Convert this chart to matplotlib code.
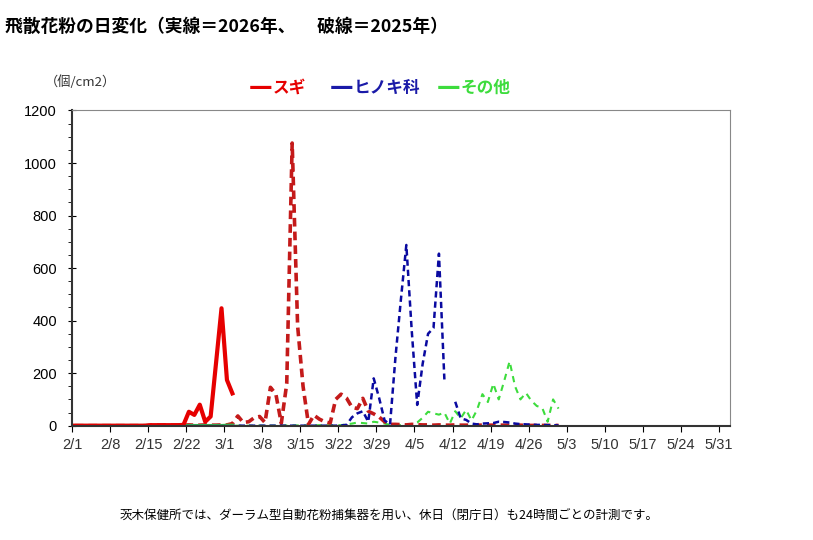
import numpy as np
import matplotlib
matplotlib.use("Agg")
import matplotlib.pyplot as plt
from matplotlib.ticker import MultipleLocator

plt.rcParams['font.family'] = ['Liberation Sans', 'Noto Sans CJK JP', 'DejaVu Sans']

# x axis: days from 2/1 (2/1 .. 6/1)
tick_labels = ["2/1", "2/8", "2/15", "2/22", "3/1", "3/8", "3/15", "3/22", "3/29",
               "4/5", "4/12", "4/19", "4/26", "5/3", "5/10", "5/17", "5/24", "5/31"]
tick_days = [0, 7, 14, 21, 28, 35, 42, 49, 56, 63, 70, 77, 84, 91, 98, 105, 112, 119]
n_days = 121

# 2026 (solid) daily counts from 2/1
sugi_2026 = [0, 0, 0, 0, 0, 0, 0, 0, 0, 0, 0, 0, 0, 0, 2, 2, 2, 2, 2, 2,
             3, 53, 41, 80, 15, 35, 240, 447, 174, 123]
hinoki_2026 = [0, 0, 0, 0, 0, 0, 0, 0, 0, 0, 0, 0, 0, 0, 0, 0, 0, 0, 0, 0,
               0, 0, 0, 0, 0, 0, 0, 0, 0, 0]
other_2026 = [0, 0, 0, 0, 0, 0, 0, 0, 0, 0, 0, 0, 0, 0, 0, 0, 0, 0, 0, 0,
              0, 0, 0, 0, 0, 0, 0, 0, 1, 1]

# 2025 (dashed) daily counts from 2/1
sugi_2025 = [0, 0, 0, 0, 0, 0, 0, 0, 0, 0, 0, 0, 0, 0, 2, 2, 2, 3, 2, 2,
             2, 3, 2, 2, 3, 2, 2, 3, 3, 8, 37, 12, 15, 30, 35, 12, 146, 120, 9, 160,
             1076, 380, 150, 5, 40, 25, 15, 10, 100, 120, 105, 70, 65, 104, 55, 45, 33, 15, 5, 5,
             4, 3, 5, 4, 3, 3, 2, 3, 2, 2, 3, 2, 2, 2, 2, 2, 2, 2, 2, 2,
             2, 2, 2, 1, 1, 1, 1, 1, 1, 1]
hinoki_2025 = [0, 0, 0, 0, 0, 0, 0, 0, 0, 0, 0, 0, 0, 0, 0, 0, 0, 0, 0, 0,
               0, 0, 0, 0, 0, 0, 0, 0, 0, 0, 0, 0, 0, 0, 0, 0, 0, 0, 0, 0,
               0, 0, 0, 0, 0, 0, 0, 0, 0, 1, 3, 32, 47, 55, 15, 180, 105, 20, 4, 260,
               480, 688, 360, 79, 235, 350, 372, 655, 176, np.nan, 91, 28, 22, 8, 5, 8, 9, 10, 15, 14,
               12, 8, 6, 5, 4, 3, 3, 2, 2, 1]
other_2025 = [0, 0, 0, 0, 0, 0, 0, 0, 0, 0, 0, 0, 0, 0, 0, 0, 0, 0, 0, 0,
              0, 0, 0, 0, 0, 0, 0, 0, 0, 0, 0, 0, 0, 0, 0, 0, 0, 0, 0, 1,
              1, 1, 1, 1, 1, 2, 2, 2, 2, 2, 5, 8, 12, 10, 8, 15, 12, 8, 3, 2,
              2, 3, 3, 12, 30, 53, 47, 42, 50, 8, 55, 28, 60, 20, 60, 120, 90, 160, 100, 170,
              245, 150, 100, 125, 95, 75, 68, 15, 100, 65]

legend_names = ["スギ", "ヒノキ科", "その他"]

red = "#e60000"
dark_red = "#c41a1a"
blue = "#0a0aa0"
green = "#3ddc3d"

fig = plt.figure(figsize=(8.13, 5.40), dpi=100)
ax = fig.add_axes([0.0886, 0.2117, 0.809, 0.5837])

def xs(vals):
    return np.arange(len(vals)) + 0.5

ax.plot(xs(other_2025), other_2025, color=green, lw=1.5, ls=(0, (3, 2.5)))
ax.plot(xs(sugi_2025), sugi_2025, color=dark_red, lw=2.6, ls=(0, (2.4, 1.4)))
ax.plot(xs(hinoki_2025), hinoki_2025, color=blue, lw=1.8, ls=(0, (2.5, 1.6)))
ax.plot(xs(other_2026), other_2026, color=green, lw=2.5)
ax.plot(xs(hinoki_2026), hinoki_2026, color=blue, lw=2.5)
ax.plot(xs(sugi_2026), sugi_2026, color=red, lw=3)

ax.set_xlim(0, n_days)
ax.set_ylim(0, 1200)
ax.set_xticks(tick_days)
ax.set_xticklabels(tick_labels, fontsize=10.5, color="#333333")
ax.yaxis.set_major_locator(MultipleLocator(200))
ax.yaxis.set_minor_locator(MultipleLocator(50))
ax.tick_params(axis='y', which='major', direction='inout', length=6, labelsize=10.5, pad=8)
ax.tick_params(axis='y', which='minor', direction='out', length=3)
ax.tick_params(axis='x', which='major', direction='out', length=4, pad=5)
for s in ['top', 'right']:
    ax.spines[s].set_color('#888888')
for s in ['left', 'bottom']:
    ax.spines[s].set_color('#333333')
    ax.spines[s].set_linewidth(1.5)

jp = ['Noto Sans CJK JP', 'DejaVu Sans']
fig.text(0.006, 0.950, "飛散花粉の日変化（実線＝2026年、　 破線＝2025年）",
         fontsize=12.8, fontweight='bold', family=jp, va='center')
fig.text(0.055, 0.848, "（個/cm2）", fontsize=9.5, family=jp, va='center', color="#333333")

# legend: coloured dash + name
leg_colors = [red, "#1a1aa8", green]
leg_x = [249, 330, 437]
for name, c, x0 in zip(legend_names, leg_colors, leg_x):
    fig.text(x0 / 813, 0.838, "—", fontsize=17, fontweight='bold', family=['DejaVu Sans'],
             color=c, va='center')
    fig.text((x0 + 24) / 813, 0.837, name, fontsize=12, fontweight='bold', family=jp,
             color=c, va='center')

fig.text(0.147, 0.046, "茨木保健所では、ダーラム型自動花粉捕集器を用い、休日（閉庁日）も24時間ごとの計測です。",
         fontsize=9, family=jp, va='center')

fig.savefig("out.png", dpi=100)
